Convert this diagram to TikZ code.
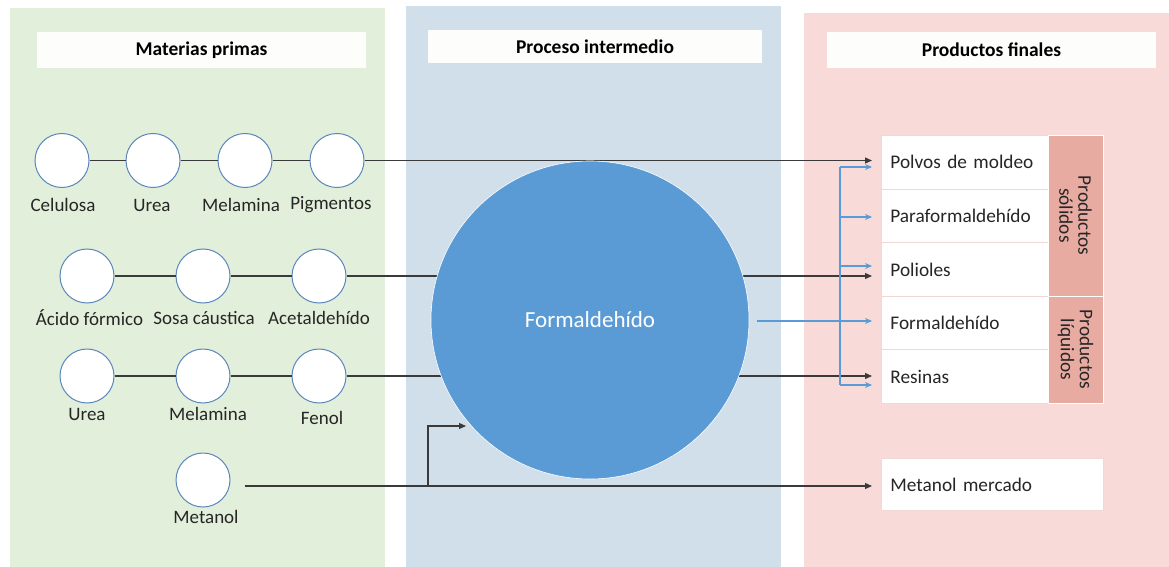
\documentclass[tikz,border=0pt]{standalone}
\usepackage{fontspec}
\setmainfont{Carlito}
\usetikzlibrary{arrows.meta,calc}
\definecolor{pgreen}{HTML}{E2EFDA}
\definecolor{pblue}{HTML}{D0DFEA}
\definecolor{ppink}{HTML}{F8DBD8}
\definecolor{hdr}{HTML}{FDFDFC}
\definecolor{salmon}{HTML}{E8ABA2}
\definecolor{rowline}{HTML}{F0D8D5}
\definecolor{cedge}{HTML}{5A86BE}
\definecolor{bigblue}{HTML}{5B9BD5}
\definecolor{lineblk}{HTML}{3A3A3A}
\definecolor{txt}{HTML}{262626}
\tikzset{
  panel/.style={draw=none},
  hdrbox/.style={fill=hdr,draw=none,minimum height=36pt,font=\fontsize{19.5}{22}\selectfont\bfseries,text=black},
  raw/.style={circle,draw=cedge,line width=1pt,fill=white,minimum size=54pt,inner sep=0pt},
  rlabel/.style={font=\fontsize{19}{22}\selectfont,text=txt,inner sep=1pt},
  link/.style={draw=lineblk,line width=1.2pt},
  feed/.style={draw=lineblk,line width=1.2pt,-{Triangle[length=7pt,width=6pt]},shorten >=9pt},
  bfeed/.style={draw=bigblue,line width=1.3pt,-{Stealth[length=7pt,width=6pt]}},
  prow/.style={draw=rowline,line width=0.8pt,fill=white,minimum height=53.6pt,text width=149pt,inner xsep=9pt,align=left,anchor=north west,font=\fontsize{19.3}{22}\selectfont,text=txt},
  sidelab/.style={rotate=-90,fill=salmon,draw=white,line width=1pt,align=center,font=\fontsize{19.3}{19}\selectfont,text=txt,inner sep=0pt,minimum height=55pt}
}
\begin{document}
\begin{tikzpicture}[x=1pt,y=-1pt]
\useasboundingbox (0,0) rectangle (1169,567);
\fill[white] (0,0) rectangle (1169,567);
% panels
\fill[pgreen] (10,8) rectangle (385,567);
\fill[pblue] (406,6) rectangle (781,567);
\fill[ppink] (804,13) rectangle (1169,567);
% headers
\node[hdrbox,minimum width=329pt] (h1) at (201.5,50) {Materias primas};
\node[hdrbox,minimum width=334pt,minimum height=33pt] (h2) at (595,46.5) {Proceso intermedio};
\node[hdrbox,minimum width=329pt] (h3) at (991.5,50) {Productos finales};
% raw material circles
\node[raw] (c1) at (62,160.5) {};
\node[raw] (c2) at (153,160.5) {};
\node[raw] (c3) at (245,160.5) {};
\node[raw] (c4) at (337,160.5) {};
\node[raw] (a1) at (87,276) {};
\node[raw] (a2) at (203,276) {};
\node[raw] (a3) at (319,276) {};
\node[raw] (u1) at (87,376) {};
\node[raw] (u2) at (203,376) {};
\node[raw] (u3) at (319,376) {};
\node[raw] (m1) at (203,480) {};
% labels
\node[rlabel] (lc1) at (63,205) {Celulosa};
\node[rlabel] (lc2) at (152,205) {Urea};
\node[rlabel] (lc3) at (241,205) {Melamina};
\node[rlabel] (lc4) at (331,205) {Pigmentos};
\node[rlabel] (la1) at (89.5,318) {Ácido fórmico};
\node[rlabel] (la2) at (204,318) {Sosa cáustica};
\node[rlabel] (la3) at (319,318) {Acetaldehído};
\node[rlabel] (lu1) at (87,414) {Urea};
\node[rlabel] (lu2) at (208,414) {Melamina};
\node[rlabel] (lu3) at (322,418) {Fenol};
\node[rlabel] (lm1) at (206,517) {Metanol};
% product rows
\node[prow] (p1) at (881,135) {Polvos de moldeo};
\node[prow] (p2) at (881,188.6) {Paraformaldehído};
\node[prow] (p3) at (881,242.2) {Polioles};
\node[prow] (p4) at (881,295.8) {Formaldehído};
\node[prow] (p5) at (881,349.4) {Resinas};
\node[sidelab,minimum width=161pt] (s1) at (1075.5,215.5) {Productos\\sólidos};
\node[sidelab,minimum width=107pt] (s2) at (1075.5,349.5) {Productos\\líquidos};
\node[prow,minimum height=52pt,text width=204pt] (mm) at (881,458) {Metanol mercado};
% links between raw materials
\draw[link] (c1) -- (c2);
\draw[link] (c2) -- (c3);
\draw[link] (c3) -- (c4);
\draw[link] (a1) -- (a2);
\draw[link] (a2) -- (a3);
\draw[link] (u1) -- (u2);
\draw[link] (u2) -- (u3);
% feeds to products (pass behind the formaldehyde circle)
\draw[feed] (c4.east) -- (c4.east -| p1.west);
\draw[feed] (a3.east) -- (a3.east -| p3.west);
\draw[feed] (u3.east) -- (u3.east -| p5.west);
\coordinate (ms) at (245,486);
\coordinate (br) at (428,486);
\coordinate (bt) at (466,426);
\draw[feed] (ms) -- (ms -| mm.west);
\draw[link,-{Triangle[length=7pt,width=6pt]}] (br) |- (bt);
% formaldehyde
\node[circle,fill=bigblue,draw=white,line width=0.6pt,minimum size=318pt,inner sep=0pt,text=white,font=\fontsize{23}{26}\selectfont] (F) at (590,320) {Formaldehído};
% blue distribution
\coordinate (fs) at (757,321);
\coordinate (bus1) at (840,167);
\coordinate (bus2) at (840,217);
\coordinate (bus3) at (840,266);
\coordinate (bus4) at (840,385);
\draw[bfeed] (fs) -- ($(fs -| p4.west)+(-9,0)$);
\draw[draw=bigblue,line width=1.3pt] (bus1) -- (bus4);
\draw[bfeed] (bus1) -- ($(bus1 -| p1.west)+(-9,0)$);
\draw[bfeed] (bus2) -- ($(bus2 -| p2.west)+(-9,0)$);
\draw[bfeed] (bus3) -- ($(bus3 -| p3.west)+(-9,0)$);
\draw[bfeed] (bus4) -- ($(bus4 -| p5.west)+(-9,0)$);
\end{tikzpicture}
\end{document}
